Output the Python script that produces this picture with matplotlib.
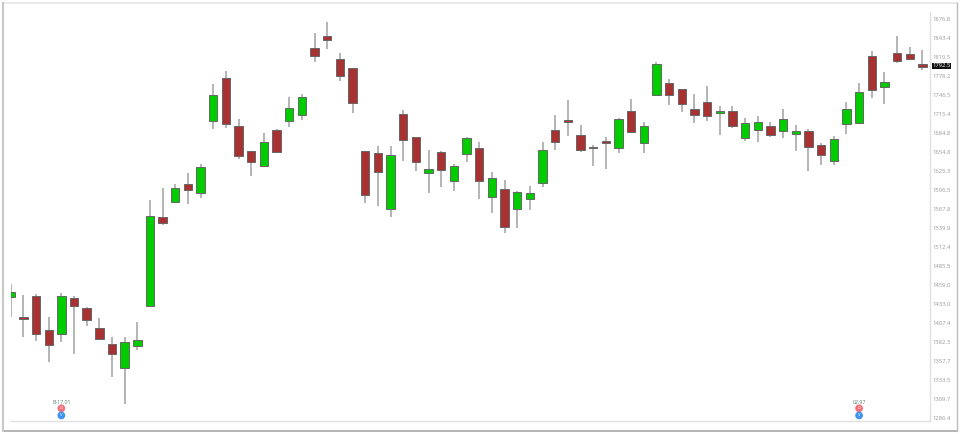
import matplotlib
matplotlib.use('Agg')
import matplotlib.pyplot as plt
from matplotlib.patches import Rectangle
import numpy as np

highs = [1460.4,1445.3,1446.7,1415.9,1448.5,1443.9,1429.4,1413.6,1389.3,1389.3,1409.1,1581.4,1599.1,1605.6,1622.7,1636.4,
         1764.9,1787.2,1707.4,1656.8,1684.3,1690.7,1742.7,1748.2,1852.7,1871.5,1818.0,1792.3,1656.4,1664.1,1664.7,1722.0,
         1678.5,1657.4,1656.8,1635.5,1678.0,1670.1,1623.3,1611.6,1595.0,1602.5,1670.1,1713.3,1737.8,1697.7,1665.3,1679.0,
         1708.5,1739.4,1703.0,1801.5,1772.8,1756.8,1748.2,1761.8,1728.3,1728.8,1708.5,1711.7,1702.5,1723.5,1698.2,1691.2,
         1669.5,1680.1,1734.5,1765.7,1820.9,1784.9,1846.9,1827.3,1823.2]
lows = [1415.9,1389.3,1384.0,1356.1,1381.9,1366.8,1403.8,1385.9,1337.0,1303.2,1372.0,1430.7,1544.3,1577.9,1575.8,1584.4,
        1691.7,1692.4,1644.4,1618.2,1632.9,1654.3,1694.0,1705.7,1802.5,1824.9,1770.4,1717.5,1576.9,1572.7,1555.6,1641.3,
        1625.8,1591.5,1600.6,1594.0,1639.8,1582.8,1562.0,1532.8,1540.3,1566.8,1601.0,1658.4,1680.5,1655.3,1632.9,1627.9,
        1652.8,1686.4,1652.8,1746.5,1730.5,1719.1,1700.4,1703.6,1681.6,1692.4,1672.2,1671.1,1678.0,1677.4,1656.8,1625.8,
        1634.6,1635.0,1683.7,1701.4,1742.1,1731.3,1800.3,1805.4,1789.1]
opens = [1442.6,1415.9,1443.9,1397.8,1392.5,1441.1,1427.6,1401.2,1379.7,1348.8,1376.8,1430.7,1556.5,1577.9,1605.1,1592.0,
         1704.6,1774.9,1695.4,1656.3,1632.9,1690.0,1704.1,1714.3,1826.6,1846.9,1807.6,1791.8,1655.9,1653.3,1567.4,1715.9,
         1678.0,1622.3,1654.3,1609.7,1652.2,1660.5,1585.5,1597.5,1567.8,1583.4,1606.6,1690.0,1706.2,1681.6,1662.1,1672.6,
         1660.5,1720.7,1668.5,1746.5,1766.6,1756.8,1723.5,1735.5,1717.5,1720.7,1677.4,1689.6,1696.0,1688.5,1683.7,1688.0,
         1665.3,1640.3,1699.8,1701.4,1812.7,1759.9,1817.9,1816.2,1798.6]
closes = [1449.4,1412.8,1393.3,1378.4,1444.3,1430.7,1411.0,1385.9,1366.4,1382.3,1384.5,1557.1,1547.6,1599.5,1596.0,1631.4,
          1746.0,1698.8,1648.6,1639.3,1670.6,1654.8,1725.2,1742.7,1812.2,1840.5,1777.7,1732.9,1588.5,1623.8,1650.2,1673.3,
          1638.8,1627.9,1626.8,1633.4,1676.9,1610.6,1615.1,1541.4,1593.0,1592.4,1658.4,1670.1,1703.0,1658.0,1661.0,1669.5,
          1706.9,1686.9,1696.0,1799.2,1746.5,1732.2,1713.8,1711.8,1720.2,1695.4,1700.9,1702.5,1681.2,1707.4,1687.5,1662.1,
          1649.7,1674.8,1723.9,1751.4,1754.2,1768.2,1804.3,1807.6,1793.0]

price_ticks = [1876.8,1843.4,1810.5,1778.2,1746.5,1715.4,1684.8,1654.8,1625.3,1596.5,1567.8,1539.9,1512.4,1485.5,
               1459.0,1433.0,1407.4,1382.3,1357.7,1333.5,1309.7,1286.4]

event_candles = [4, 67]
event_labels = ['B-17.01', '02.97']
last_label = '1792.5'

W, H = 960, 434
fig = plt.figure(figsize=(W / 100, H / 100), dpi=100, facecolor='white')
plt.rcParams['font.family'] = ['Open Sans', 'DejaVu Sans']

# outer frame of the screenshot
fig.add_artist(plt.Line2D([2.5 / W, 957 / W], [431.5 / H, 431.5 / H], color='#e6e6e6', lw=1.2))
fig.add_artist(plt.Line2D([2.5 / W, 957 / W], [3.5 / H, 3.5 / H], color='#a8a8a8', lw=1.2))
fig.add_artist(plt.Line2D([2.5 / W, 2.5 / W], [3.5 / H, 431.5 / H], color='#c8c8c8', lw=1.5))
fig.add_artist(plt.Line2D([957 / W, 957 / W], [3.5 / H, 431.5 / H], color='#bcbcbc', lw=1.0))

ax = fig.add_axes([11 / W, (H - 420.7) / H, 919 / W, 408.7 / H])
ax.set_facecolor('white')
ax.set_yscale('log')
ax.set_xlim(0.024, 72.6)
ax.set_ylim(1283.1, 1889.2)

x = np.arange(len(highs))
o = np.array(opens)
c = np.array(closes)
colors = ['#00cc00' if cl >= op else '#a83232' for op, cl in zip(o, c)]

ax.vlines(x, lows, highs, color='#a0a0a0', lw=1.1, zorder=2)
ax.bar(x, np.abs(c - o), bottom=np.minimum(o, c), width=0.66, color=colors,
       edgecolor='#666666', linewidth=0.7, zorder=3)

for sp in ['top', 'left']:
    ax.spines[sp].set_visible(False)
for sp in ['right', 'bottom']:
    ax.spines[sp].set_color('#e0e0e0')
    ax.spines[sp].set_linewidth(1.0)

ax.set_xticks([])
ax.yaxis.tick_right()
ax.set_yticks(price_ticks)
ax.set_yticklabels([f'{p:.1f}' for p in price_ticks])
ax.minorticks_off()
ax.tick_params(axis='y', length=0, pad=1.5, labelsize=4.2, labelcolor='#9a9a9a')

# event markers near the bottom
for i, lab in zip(event_candles, event_labels):
    ax.annotate(lab, (i, 0), xycoords=('data', 'axes fraction'), xytext=(0, 13.2), textcoords='offset points',
                ha='center', va='center', fontsize=3.8, color='#5d7f6d')
    ax.annotate('D', (i, 0), xycoords=('data', 'axes fraction'), xytext=(0, 8.9), textcoords='offset points',
                ha='center', va='center', fontsize=3, color='white', zorder=5,
                bbox=dict(boxstyle='circle,pad=0.45', fc='#f2707a', ec='none'))
    ax.annotate('V', (i, 0), xycoords=('data', 'axes fraction'), xytext=(0, 3.8), textcoords='offset points',
                ha='center', va='center', fontsize=3, color='white', zorder=5,
                bbox=dict(boxstyle='circle,pad=0.45', fc='#3f94f2', ec='none'))

# last price flag on the axis
ax.annotate(last_label, (1, closes[-1]), xycoords=('axes fraction', 'data'), xytext=(1.5, 1), textcoords='offset points',
            ha='left', va='center', fontsize=4.2, color='white',
            bbox=dict(boxstyle='square,pad=0.1', fc='#111111', ec='none'), annotation_clip=False, zorder=6)

fig.savefig('out.png', dpi=100, facecolor='white')
